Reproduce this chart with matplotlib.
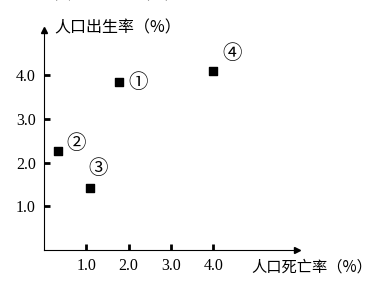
import matplotlib
matplotlib.use("Agg")
import matplotlib.pyplot as plt

# data
labels = ["①", "②", "③", "④"]
death_rate = [1.77, 0.33, 1.09, 4.0]
birth_rate = [3.85, 2.27, 1.42, 4.1]
ticks = [1.0, 2.0, 3.0, 4.0]
tick_labels = ["1.0", "2.0", "3.0", "4.0"]
xlabel = "人口死亡率（%）"
ylabel = "人口出生率（%）"

cjk = ["Noto Sans CJK SC", "DejaVu Sans"]
serif = "Liberation Serif"

fig = plt.figure(figsize=(3.74, 2.81), dpi=100)
ax = fig.add_axes([0, 0, 1, 1])
ax.set_xlim(-1.04, 7.80)
ax.set_ylim(-0.71, 5.73)

for s in ["top", "right"]:
    ax.spines[s].set_visible(False)
ax.spines["left"].set_position(("data", 0))
ax.spines["bottom"].set_position(("data", 0))
ax.spines["left"].set_bounds(0, 5.0)
ax.spines["bottom"].set_bounds(0, 5.95)
ax.plot(0, 5.05, marker="^", color="black", markersize=5, clip_on=False)
ax.plot(5.98, 0, marker=">", color="black", markersize=5, clip_on=False)

ax.set_xticks(ticks)
ax.set_xticklabels(tick_labels, fontfamily=serif, fontsize=11.5)
ax.set_yticks(ticks)
ax.set_yticklabels(tick_labels, fontfamily=serif, fontsize=11.5)
ax.tick_params(direction="in", length=4, width=2, pad=6)

ax.scatter(death_rate, birth_rate, marker="s", s=30, color="black", zorder=3)
offsets = [(0.45, 0.0), (0.42, 0.17), (0.2, 0.44), (0.45, 0.4)]
for lab, x, y, (dx, dy) in zip(labels, death_rate, birth_rate, offsets):
    ax.text(x + dx, y + dy, lab, fontfamily=cjk, fontsize=14,
            ha="center", va="center")

ax.text(0.25, 5.1, ylabel, fontfamily=cjk, fontsize=11.5, va="center")
# the same title, cut off by the top edge, as in the source image
ax.text(0.25, 5.85, ylabel, fontfamily=cjk, fontsize=11.5, va="center")
ax.text(4.9, -0.38, xlabel, fontfamily=cjk, fontsize=11, va="center")

fig.savefig("out.png", dpi=100)
